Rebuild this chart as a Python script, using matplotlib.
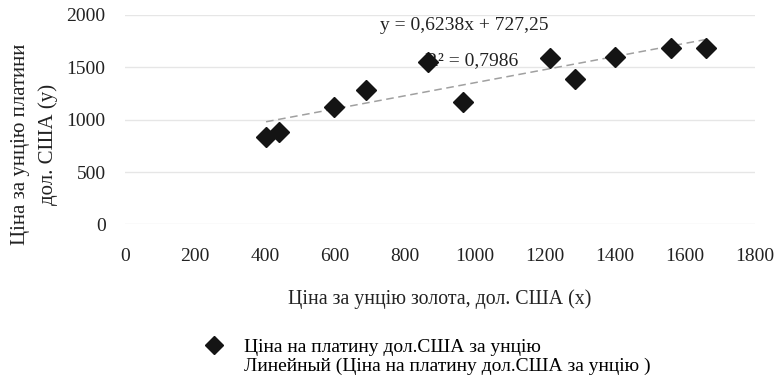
import matplotlib
matplotlib.use("Agg")
import matplotlib.pyplot as plt
from matplotlib.lines import Line2D
import numpy as np

# gold vs platinum price, USD per ounce
gold = [403, 440, 597, 689, 866, 966, 1214, 1286, 1400, 1560, 1660]
platinum = [833, 881, 1119, 1281, 1548, 1167, 1586, 1386, 1595, 1681, 1681]
slope, intercept, r2 = 0.6238, 727.25, 0.7986

x_ticks = [0, 200, 400, 600, 800, 1000, 1200, 1400, 1600, 1800]
y_ticks = [0, 500, 1000, 1500, 2000]

plt.rcParams['font.family'] = ['Liberation Serif', 'DejaVu Serif']
ink = '#222222'

fig = plt.figure(figsize=(7.74, 3.81), dpi=100, facecolor='white')
ax = fig.add_axes([0.1615, 0.4108, 0.814, 0.551])

ax.set_xlim(0, 1800)
ax.set_ylim(0, 2000)
ax.set_xticks(x_ticks)
ax.set_yticks(y_ticks)
ax.tick_params(length=0, labelsize=14, colors=ink)
ax.tick_params(axis='x', pad=17)
ax.tick_params(axis='y', pad=14)
for s in ax.spines.values():
    s.set_visible(False)
ax.grid(axis='y', color='#e6e6e6', lw=1)
ax.set_axisbelow(True)

# linear trend from the fitted coefficients
xs = np.array([min(gold), max(gold)])
trend, = ax.plot(xs, slope * xs + intercept, ls=(0, (5, 3)), color='#a0a0a0', lw=1.1, zorder=2)
pts, = ax.plot(gold, platinum, 'D', ms=10, color='#141414', ls='none', zorder=3)

eq = 'y = {:.4f}x + {:.2f}'.format(slope, intercept).replace('.', ',')
ax.text(970, 1900, eq, fontsize=14, ha='center', va='center', color=ink, zorder=1)
ax.text(990, 1560, 'R\u00b2 = {:.4f}'.format(r2).replace('.', ','), fontsize=14,
        ha='center', va='center', color=ink, zorder=1)

fig.text(0.0265, 0.622, 'Ціна за унцію платини', rotation=90, fontsize=15,
         ha='center', va='center', color=ink)
fig.text(0.062, 0.622, 'дол. США (у)', rotation=90, fontsize=15,
         ha='center', va='center', color=ink)
fig.text(0.568, 0.216, 'Ціна за унцію золота, дол. США (х)', fontsize=14.3,
         ha='center', va='center', color=ink)

blank = Line2D([], [], color='none')
fig.legend([pts, blank],
           ['Ціна на платину дол.США за унцію',
            'Линейный (Ціна на платину дол.США за унцію )'],
           loc='upper left', bbox_to_anchor=(0.262, 0.112), frameon=False,
           fontsize=14, handlelength=1.2, handletextpad=0.9, labelspacing=0.05,
           borderpad=0, borderaxespad=0, markerscale=0.9)

fig.savefig('out.png', dpi=100, facecolor='white')
